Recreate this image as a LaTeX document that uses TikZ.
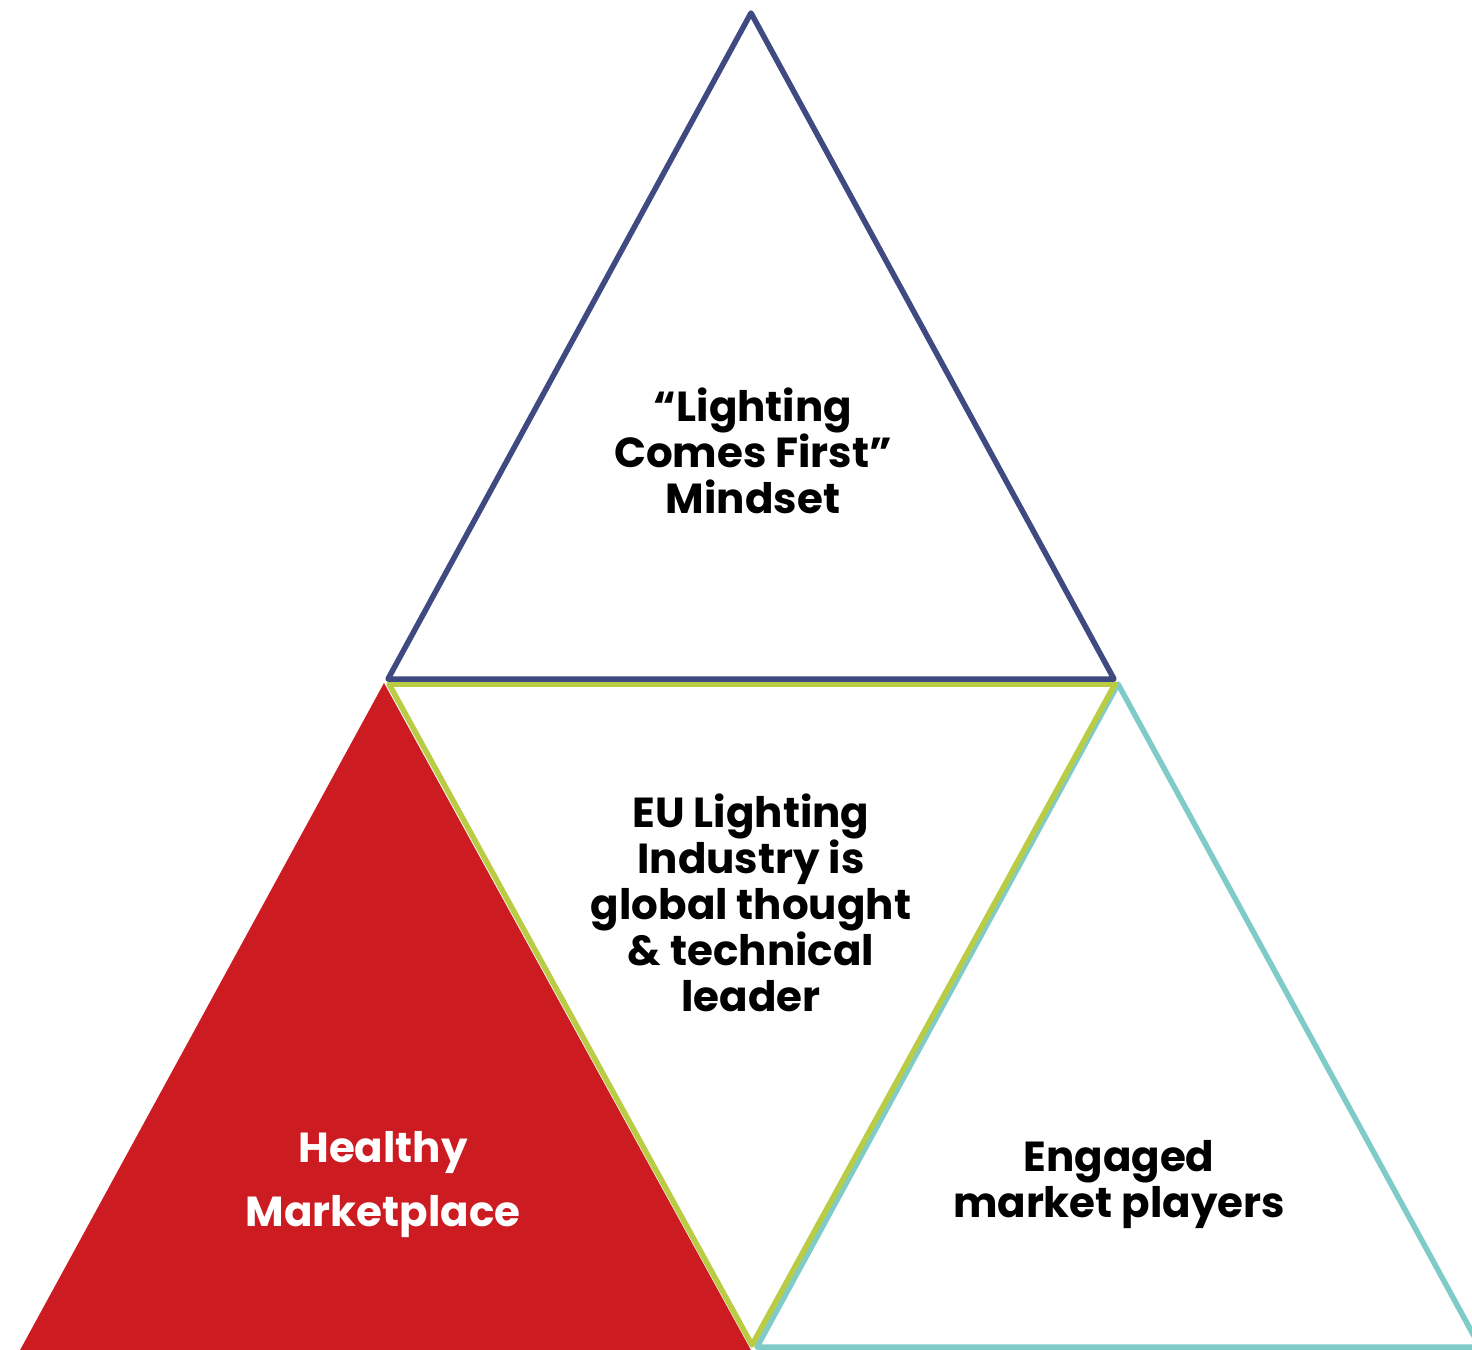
\documentclass[tikz,border=0pt]{standalone}
\usepackage{fontspec}
\setmainfont{Poppins}
\usepackage{tikz,xcolor}
\definecolor{top edge}{HTML}{3F4A80}
\definecolor{mid edge}{HTML}{BACB44}
\definecolor{right edge}{HTML}{7ECBC8}
\definecolor{left area}{HTML}{CC1B21}
\tikzset{outline/.style={line width=5.5pt, line join=round},
    label/.style={align=center, font=\bfseries\fontsize{42}{46}\selectfont}}

\begin{document}
\begin{tikzpicture}[x=1pt,y=-1pt]
    \useasboundingbox (0,0) rectangle (1472,1349);
    \clip (0,0) rectangle (1472,1349);
    % Definition of corners
    \coordinate (apex) at (751,13);
    \coordinate (topL) at (388,679);
    \coordinate (topR) at (1114,679);
    \coordinate (redTop) at (384,683);
    \coordinate (redL) at (19,1352);
    \coordinate (redR) at (752,1352);
    \coordinate (midL) at (389,684);
    \coordinate (midR) at (1115,684);
    \coordinate (midB) at (752,1345);
    \coordinate (rightTop) at (1118,684);
    \coordinate (rightL) at (757,1347);
    \coordinate (rightR) at (1480,1347);
    %
    \fill[left area] (redTop) -- (redL) -- (redR) -- cycle;
    \draw[outline, right edge] (rightTop) -- (rightL) -- (rightR) -- cycle;
    \draw[outline, mid edge] (midL) -- (midR) -- (midB) -- cycle;
    \draw[outline, top edge] (apex) -- (topL) -- (topR) -- cycle;
    % Texts
    \node[label] (mindset) at (753,451) {“Lighting\\Comes First”\\Mindset};
    \node[label] (leader) at (751,903) {EU Lighting\\Industry is\\global thought\\\& technical\\leader};
    \node[label, text=white, font=\bfseries\fontsize{42}{64}\selectfont] (market) at (383,1185) {Healthy\\Marketplace};
    \node[label] (players) at (1119,1185) {Engaged\\market players};
\end{tikzpicture}
\end{document}
